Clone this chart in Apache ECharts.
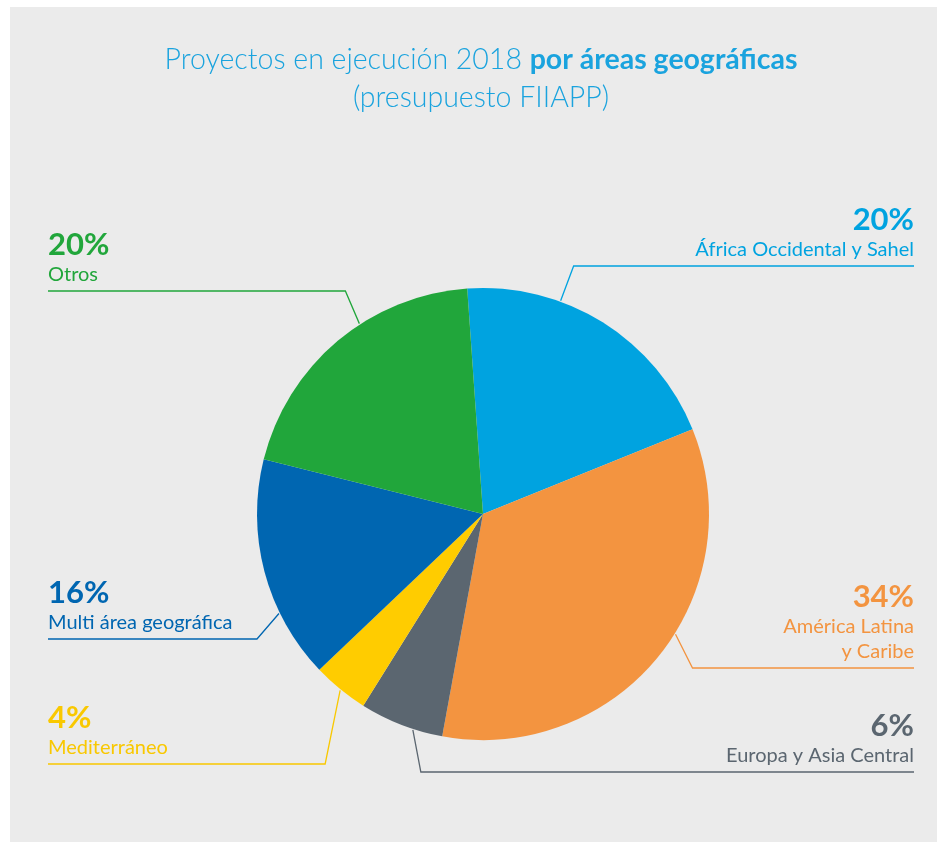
<!DOCTYPE html>
<html>
<head>
<meta charset="utf-8">
<script src="https://cdn.jsdelivr.net/npm/echarts@6/dist/echarts.min.js"></script>
<style>
  html, body { margin: 0; padding: 0; background: #ffffff; }
  #chart { width: 937px; height: 846px; }
</style>
</head>
<body>
<div id="chart"></div>
<script>
// ---- Data ----
const categories = [
  'África Occidental y Sahel',
  'América Latina\ny Caribe',
  'Europa y Asia Central',
  'Mediterráneo',
  'Multi área geográfica',
  'Otros'
];
const values = [20, 34, 6, 4, 16, 20];
const colors = ['#00a3e0', '#f39440', '#5b6670', '#ffcc00', '#0066b1', '#21a63b'];
const labelColors = ['#00a3e0', '#f39440', '#5b6670', '#f9c800', '#0066b1', '#21a63b'];
const titleLine1 = 'Proyectos en ejecución 2018 ';
const titleBold = 'por áreas geográficas';
const titleLine2 = '(presupuesto FIIAPP)';

// ---- Layout (label placement, not data) ----
const CX = 483, CY = 514, R = 226;
const labelLayoutCfg = [
  { side: 'right', lineY: 266, angle: 20,  bendDx: 13 },
  { side: 'right', lineY: 668, angle: 122, bendDx: 17 },
  { side: 'right', lineY: 772, angle: 198, bendDx: 8 },
  { side: 'left',  lineY: 764, angle: 219, bendDx: -15 },
  { side: 'left',  lineY: 639, angle: 244, bendDx: -22 },
  { side: 'left',  lineY: 291, angle: 327, bendDx: -14 }
];
const LEFT_X = 48, RIGHT_X = 914;

const chart = echarts.init(document.getElementById('chart'), null, { renderer: 'canvas' });

const FONT = 'Lato, "Open Sans", sans-serif';

const data = categories.map((name, i) => ({
  name: name,
  value: values[i],
  itemStyle: { color: colors[i] },
  label: { color: labelColors[i] },
  labelLine: { lineStyle: { color: labelColors[i] } }
}));

const option = {
  backgroundColor: '#ffffff',
  graphic: [{
    type: 'rect',
    z: -10,
    shape: { x: 10, y: 7, width: 927, height: 835 },
    style: { fill: '#ebebeb' }
  }],
  title: {
    left: 481,
    top: 41,
    padding: 0,
    textAlign: 'center',
    text: '{a|' + titleLine1 + '}{b|' + titleBold + '}\n{a|' + titleLine2 + '}',
    textStyle: {
      rich: {
        a: { fontFamily: FONT, fontSize: 28.5, fontWeight: 300, color: '#1aa3de', lineHeight: 38 },
        b: { fontFamily: FONT, fontSize: 28.5, fontWeight: 'bold', color: '#1aa3de', lineHeight: 38 }
      }
    }
  },
  series: [{
    type: 'pie',
    center: [CX, CY],
    radius: [0, R],
    startAngle: 94,
    clockwise: true,
    avoidLabelOverlap: false,
    silent: true,
    animation: false,
    data: data,
    label: {
      show: true,
      position: 'outside',
      fontFamily: FONT,
      formatter: (p) => '{p|' + p.value + '%}\n{n|' + p.name + '}',
      rich: {
        p: { fontFamily: FONT, fontSize: 31, fontWeight: 'bold', lineHeight: 34 },
        n: { fontFamily: FONT, fontSize: 20, lineHeight: 25 }
      }
    },
    labelLine: {
      show: true,
      length: 10,
      length2: 10,
      lineStyle: { width: 1.3 }
    },
    labelLayout: function (params) {
      const cfg = labelLayoutCfg[params.dataIndex];
      const a = cfg.angle * Math.PI / 180;
      const sx = CX + (R + 1) * Math.sin(a);
      const sy = CY - (R + 1) * Math.cos(a);
      const bx = sx + cfg.bendDx;
      const ex = cfg.side === 'right' ? RIGHT_X : LEFT_X;
      return {
        x: ex,
        y: cfg.lineY - 4,
        align: cfg.side === 'right' ? 'right' : 'left',
        verticalAlign: 'bottom',
        labelLinePoints: [[sx, sy], [bx, cfg.lineY], [ex, cfg.lineY]]
      };
    }
  }]
};

chart.setOption(option);
</script>
</body>
</html>
